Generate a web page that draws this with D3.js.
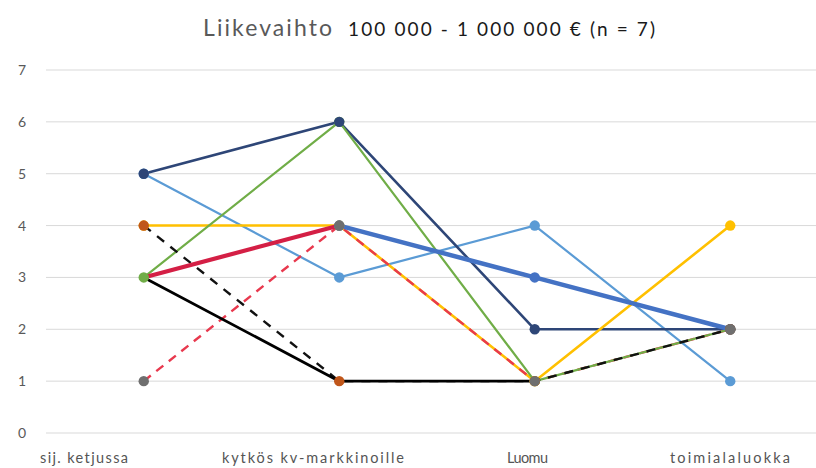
<!DOCTYPE html>
<html><head><meta charset="utf-8">
<script src="https://cdn.jsdelivr.net/npm/d3@7"></script>
<style>body{margin:0;background:#fff;} svg{display:block;}</style>
</head><body>
<svg id="c" width="816" height="468"></svg>
<script>
// ---- data ----
const categories = ["sij. ketjussa", "kytkös kv-markkinoille", "Luomu", "toimialaluokka"];
const yTicks = [0, 1, 2, 3, 4, 5, 6, 7];
const titleMain = "Liikevaihto";
const titleSub = "100 000 - 1 000 000 € (n = 7)";
const navyValues      = [5, 6, 2, 2];
const lightBlueValues = [5, 3, 4, 1];
const greenValues     = [3, 6, 1, 2];
const yellowValues    = [4, 4, 1, 4];
const blackValues     = [3, 1, 1, null];
const redThickValues  = [3, 4, null, null];
const blueThickValues = [null, 4, 3, 2];
const redDashValues   = [1, 4, 1, 2];
const blackDashValues = [4, 1, 1, 2];

// ---- styles ----
const S = {
  lightBlue: {v: lightBlueValues, color: "#5B9BD5", w: 2.2, marker: "#5B9BD5"},
  navy:      {v: navyValues,      color: "#2E4677", w: 2.6, marker: "#2E4677"},
  yellow:    {v: yellowValues,    color: "#FFC000", w: 2.6, marker: "#FFC000"},
  redDash:   {v: redDashValues,   color: "#E8394E", w: 2.4, dash: "9,7", marker: "#6F6F6F"},
  green:     {v: greenValues,     color: "#70AD47", w: 2.2, marker: "#70AD47"},
  black:     {v: blackValues,     color: "#000000", w: 2.8, marker: null},
  blueThick: {v: blueThickValues, color: "#4472C4", w: 4.5, marker: "#4472C4"},
  redThick:  {v: redThickValues,  color: "#D41F45", w: 4.2, marker: null},
  blackDash: {v: blackDashValues, color: "#111111", w: 2.4, dash: "9,8", marker: "#C0561A"}
};
const lineOrder = ["lightBlue", "navy", "yellow", "redDash", "green", "blackDash", "black", "blueThick", "redThick"];
const markerOrder = ["lightBlue", "green", "navy", "yellow", "blueThick", "blackDash", "redDash"];
const labelCenters = [84, 313, 527.5, 730];
const labelWidths = [88, 182, 41, 120];

const svg = d3.select("#c");
const x = d3.scalePoint().domain(categories).range([46, 828]).padding(0.5);
const y = d3.scaleLinear().domain([0, 7]).range([433, 70]);

// grid
svg.append("g").selectAll("line").data(yTicks).join("line")
  .attr("x1", 46).attr("x2", 816)
  .attr("y1", d => y(d)).attr("y2", d => y(d))
  .attr("stroke", "#D9D9D9").attr("stroke-width", 1);

// y labels
svg.append("g").selectAll("text").data(yTicks).join("text")
  .attr("x", 22).attr("y", d => y(d) + 5)
  .attr("text-anchor", "middle")
  .attr("font-family", "Lato, 'Open Sans', sans-serif").attr("font-size", 14)
  .attr("fill", "#595959").text(d => d);

// x labels
svg.append("g").selectAll("text").data(categories).join("text")
  .attr("x", (d, i) => x(d) + (labelCenters[i] - x(d)) - labelWidths[i] / 2).attr("y", 463)
  .attr("textLength", (d, i) => labelWidths[i]).attr("lengthAdjust", "spacing")
  .attr("font-family", "Lato, 'Open Sans', sans-serif").attr("font-size", 14.5)
  .attr("fill", "#555555").text(d => d);

const line = d3.line()
  .defined(d => d.v != null)
  .x(d => x(d.c)).y(d => y(d.v));

lineOrder.forEach(k => {
  const s = S[k];
  const pts = s.v.map((v, i) => ({c: categories[i], v}));
  svg.append("path").datum(pts)
    .attr("d", line).attr("fill", "none")
    .attr("stroke", s.color).attr("stroke-width", s.w)
    .attr("stroke-dasharray", s.dash || null)
    .attr("stroke-linejoin", "round");
});

markerOrder.forEach(k => {
  const s = S[k];
  const pts = s.v.map((v, i) => ({c: categories[i], v})).filter(d => d.v != null);
  svg.append("g").selectAll("circle").data(pts).join("circle")
    .attr("cx", d => x(d.c)).attr("cy", d => y(d.v)).attr("r", 5.2)
    .attr("fill", s.marker);
});

// title
svg.append("text").attr("x", 203).attr("y", 36)
  .attr("font-family", "Lato, 'Open Sans', sans-serif").attr("font-size", 23)
  .attr("textLength", 129).attr("lengthAdjust", "spacing")
  .attr("fill", "#595959").text(titleMain);
svg.append("text").attr("x", 348).attr("y", 36)
  .attr("font-family", "Lato, 'Open Sans', sans-serif").attr("font-size", 19)
  .attr("textLength", 307).attr("lengthAdjust", "spacing")
  .attr("fill", "#1a1a1a").text(titleSub);
</script>
</body></html>
